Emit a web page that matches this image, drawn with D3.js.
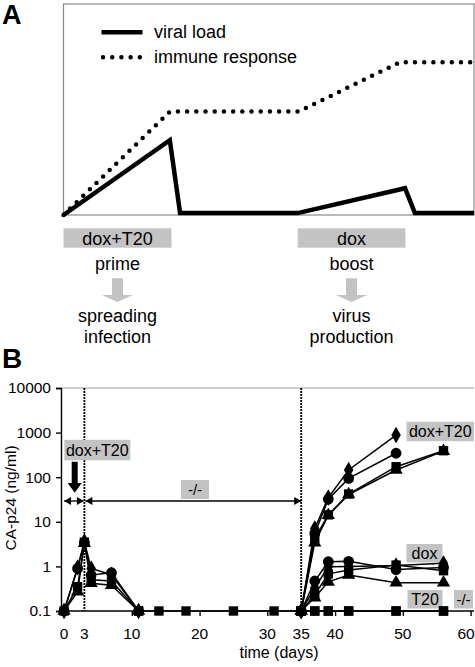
<!DOCTYPE html>
<html><head><meta charset="utf-8">
<script src="https://cdn.jsdelivr.net/npm/d3@7"></script>
<style>
html,body{margin:0;padding:0;background:#fff;}
svg{display:block;font-family:"Liberation Sans",Arial,sans-serif;}
</style></head>
<body>
<svg id="c" width="475" height="667"></svg>
<script>
// ---------- Panel A (schematic) ----------
const schemeT = [0, 25.9, 28.4, 57.05, 83.2, 85.6, 100];
const viralLoad = [0, 35.5, 0.9, 0.9, 12.7, 0.9, 0.9];
const immuneT = [0, 25.9, 57.2, 82, 100];
const immuneResponse = [0, 49, 49, 72.4, 72.4];
const legendLabels = ["viral load", "immune response"];
const phaseBoxes = ["dox+T20", "dox"];
const phaseStarts = [0, 57.05];
const phaseEnds = [26.3, 83.3];
const phaseTop = ["prime", "boost"];
const phaseBottom = [["spreading", "infection"], ["virus", "production"]];

// ---------- Panel B (CA-p24) ----------
const earlyDays = [0, 2, 3, 4, 7, 11];
const earlyDiamond = [0.1, 0.95, 3.6, 0.9, 0.65, 0.1];
const earlyCircle = [0.1, 0.9, 3.4, 0.64, 0.72, 0.1];
const earlySquare = [0.1, 0.35, 3.5, 0.5, 0.47, 0.1];
const earlyTriangle = [0.1, 0.27, 3.3, 0.42, 0.38, 0.1];
const restDays = [11, 14, 18, 25, 31, 35];
const restValues = [0.1, 0.1, 0.1, 0.1, 0.1, 0.1];
const lateDays = [35, 37, 39, 42, 49, 56];
const doxT20Diamond = [0.1, 7.1, 35, 145, 880, null];
const doxT20Circle = [0.1, 5.5, 32, 94, 344, null];
const doxT20Square = [0.1, 4.2, 14.3, 42, 172, 393];
const doxT20Triangle = [0.1, 3.4, 14, 41, 145, 385];
const doxCircle = [0.1, 0.47, 1.27, 1.3, 0.85, 0.95];
const doxDiamond = [0.1, 0.33, 0.98, 1.0, 1.05, 1.17];
const doxSquare = [0.1, 0.23, 0.68, 0.83, 1.07, 0.8];
const doxTriangle = [0.1, 0.2, 0.45, 0.64, 0.43, 0.43];
const t20Values = [0.1, 0.1, 0.1, 0.1, 0.1, 0.1];
const negValues = [0.1, 0.1, 0.1, 0.1, 0.1, 0.1];
const yTicks = [0.1, 1, 10, 100, 1000, 10000];
const yTickLabels = ["0.1", "1", "10", "100", "1000", "10000"];
const xTicks = [0, 10, 20, 30, 40, 50, 60];
const xLabelValues = [0, 3, 10, 20, 30, 35, 40, 50, 60];
const treatDays = [0, 3, 35];

const svg = d3.select("#c");
const GRAY = "#c3c3c3";

// Panel letters
svg.append("text").attr("x", 2).attr("y", 24).attr("font-size", 27).attr("font-weight", "bold").text("A");
svg.append("text").attr("x", 2).attr("y", 368).attr("font-size", 28).attr("font-weight", "bold").text("B");

// ---- Panel A
const xa = d3.scaleLinear().domain([0, 100]).range([63.5, 474]);
const ya = d3.scaleLinear().domain([0, 100]).range([215, 4]);
const A = svg.append("g");
A.append("rect").attr("x", xa(0)).attr("y", ya(100)).attr("width", xa(100) - xa(0)).attr("height", ya(0) - ya(100))
  .attr("fill", "none").attr("stroke", "#8a8a8a").attr("stroke-width", 1.2);

const lineA = d3.line().x(d => xa(d[0])).y(d => ya(d[1]));
A.append("path").datum(immuneT.map((t, i) => [t, immuneResponse[i]]))
  .attr("d", lineA).attr("fill", "none").attr("stroke", "#000").attr("stroke-width", 4.5)
  .attr("stroke-linecap", "round").attr("stroke-dasharray", "0 9.2");
A.append("path").datum(schemeT.map((t, i) => [t, viralLoad[i]]))
  .attr("d", lineA).attr("fill", "none").attr("stroke", "#000").attr("stroke-width", 4.5)
  .attr("stroke-linejoin", "miter");

// legend
A.append("line").attr("x1", 101.5).attr("x2", 142.5).attr("y1", 32.3).attr("y2", 32.3)
  .attr("stroke", "#000").attr("stroke-width", 4.5);
A.append("line").attr("x1", 103).attr("x2", 142).attr("y1", 57.3).attr("y2", 57.3)
  .attr("stroke", "#000").attr("stroke-width", 4.5).attr("stroke-linecap", "round").attr("stroke-dasharray", "0 9.2");
A.append("text").attr("x", 154).attr("y", 37.5).attr("font-size", 18).text(legendLabels[0]);
A.append("text").attr("x", 154).attr("y", 62.5).attr("font-size", 18).text(legendLabels[1]);

// phase boxes and texts
phaseBoxes.forEach((lab, i) => {
  const x0 = xa(phaseStarts[i]), x1 = xa(phaseEnds[i]), cx = (x0 + x1) / 2;
  A.append("rect").attr("x", x0).attr("y", 228.3).attr("width", x1 - x0).attr("height", 19.4).attr("fill", GRAY);
  A.append("text").attr("x", cx).attr("y", 244.5).attr("text-anchor", "middle").attr("font-size", 18).text(lab);
  A.append("text").attr("x", cx).attr("y", 270).attr("text-anchor", "middle").attr("font-size", 18).text(phaseTop[i]);
  const ax = cx;
  A.append("path").attr("fill", GRAY)
    .attr("d", `M${ax - 5.5},278.3 L${ax + 5.5},278.3 L${ax + 5.5},295 L${ax + 15.5},295 L${ax},302 L${ax - 15.5},295 L${ax - 5.5},295 Z`);
  A.append("text").attr("x", cx).attr("y", 321.5).attr("text-anchor", "middle").attr("font-size", 18).text(phaseBottom[i][0]);
  A.append("text").attr("x", cx).attr("y", 342.5).attr("text-anchor", "middle").attr("font-size", 18).text(phaseBottom[i][1]);
});

// ---- Panel B
const x = d3.scaleLinear().domain([-0.45, 60.5]).range([61, 474]);
const y = d3.scaleLog().domain([0.1, 10000]).range([611, 388]);
const B = svg.append("g");

B.append("line").attr("x1", 61).attr("x2", 474).attr("y1", y(10000)).attr("y2", y(10000))
  .attr("stroke", "#9a9a9a").attr("stroke-width", 1);

const yAxis = B.append("g").attr("transform", "translate(61,0)")
  .call(d3.axisLeft(y).tickValues(yTicks).tickFormat((d, i) => yTickLabels[i]).tickSize(5).tickPadding(5));
yAxis.select(".domain").attr("stroke-width", 1.4);
yAxis.selectAll("line").attr("stroke-width", 1.4);
yAxis.selectAll("text").attr("font-size", 15.5).attr("font-family", "Liberation Sans, Arial, sans-serif").attr("fill", "#000");

const xAxis = B.append("g").attr("transform", "translate(0,611)")
  .call(d3.axisBottom(x).tickValues(xTicks).tickFormat("").tickSize(5).tickSizeOuter(0));
xAxis.select(".domain").attr("stroke-width", 1.4).attr("d", `M61,0H474`);
xAxis.selectAll("line").attr("stroke-width", 1.4);
B.selectAll(".xl").data(xLabelValues).enter().append("text").attr("class", "xl")
  .attr("x", d => Math.min(x(d), 466)).attr("y", 639).attr("text-anchor", "middle").attr("font-size", 15.5).text(d => d);
B.append("text").attr("x", 279).attr("y", 658).attr("text-anchor", "middle").attr("font-size", 16).text("time (days)");
B.append("text").attr("transform", "translate(16,498) rotate(-90)").attr("text-anchor", "middle")
  .attr("font-size", 15.5).text("CA-p24 (ng/ml)");

[treatDays[1], treatDays[2]].forEach(d => {
  B.append("line").attr("x1", x(d)).attr("x2", x(d)).attr("y1", y(10000)).attr("y2", y(0.1))
    .attr("stroke", "#000").attr("stroke-width", 1.8).attr("stroke-dasharray", "2 1");
});

const arrowY = 501;
function head(px, dir) {
  B.append("path").attr("fill", "#000")
    .attr("d", `M${px},${arrowY} L${px - dir * 7},${arrowY - 4} L${px - dir * 7},${arrowY + 4} Z`);
}
B.append("line").attr("x1", x(treatDays[0])).attr("x2", x(treatDays[1]) - 1).attr("y1", arrowY).attr("y2", arrowY).attr("stroke", "#000").attr("stroke-width", 1.3);
B.append("line").attr("x1", x(treatDays[1]) + 1).attr("x2", x(treatDays[2])).attr("y1", arrowY).attr("y2", arrowY).attr("stroke", "#000").attr("stroke-width", 1.3);
head(x(treatDays[0]), -1); head(x(treatDays[1]) - 0.5, 1); head(x(treatDays[1]) + 1, -1); head(x(treatDays[2]), 1);

const bx = 74.7;
B.append("path").attr("fill", "#000")
  .attr("d", `M${bx - 3},461.7 L${bx + 3},461.7 L${bx + 3},483 L${bx + 7},483 L${bx},492.7 L${bx - 7},483 L${bx - 3},483 Z`);

function gbox(x0, y0, w, h, txt, fs) {
  B.append("rect").attr("x", x0).attr("y", y0).attr("width", w).attr("height", h).attr("fill", GRAY);
  B.append("text").attr("x", x0 + w / 2).attr("y", y0 + h / 2 + fs * 0.36).attr("text-anchor", "middle").attr("font-size", fs).text(txt);
}
gbox(64.3, 439.8, 66, 20.5, "dox+T20", 16);
gbox(181, 480, 28, 19, "-/-", 15);
gbox(406.5, 421.7, 67.5, 19.5, "dox+T20", 16);
gbox(406.5, 544, 36, 18.5, "dox", 16);
gbox(407.5, 590, 35, 18.5, "T20", 16);
gbox(454, 590, 19, 18.5, "-/-", 15);

const sym = {
  diamond: d3.symbol().type(d3.symbolDiamond).size(78)(),
  circle: d3.symbol().type(d3.symbolCircle).size(92)(),
  square: d3.symbol().type(d3.symbolSquare).size(88)(),
  triangle: d3.symbol().type(d3.symbolTriangle).size(76)()
};
const series = [
  { days: earlyDays, vals: earlyTriangle, m: "triangle" },
  { days: earlyDays, vals: earlySquare, m: "square" },
  { days: earlyDays, vals: earlyCircle, m: "circle" },
  { days: earlyDays, vals: earlyDiamond, m: "diamond" },
  { days: restDays, vals: restValues, m: "square" },
  { days: lateDays, vals: t20Values, m: "square" },
  { days: lateDays, vals: negValues, m: "square" },
  { days: lateDays, vals: doxTriangle, m: "triangle" },
  { days: lateDays, vals: doxSquare, m: "square" },
  { days: lateDays, vals: doxDiamond, m: "diamond" },
  { days: lateDays, vals: doxCircle, m: "circle" },
  { days: lateDays, vals: doxT20Triangle, m: "triangle" },
  { days: lateDays, vals: doxT20Square, m: "square" },
  { days: lateDays, vals: doxT20Circle, m: "circle" },
  { days: lateDays, vals: doxT20Diamond, m: "diamond" }
];
const lineB = d3.line().defined(d => d[1] != null).x(d => x(d[0])).y(d => y(d[1]));
series.forEach(s => {
  const pts = s.days.map((d, i) => [d, s.vals[i]]);
  B.append("path").datum(pts).attr("d", lineB).attr("fill", "none").attr("stroke", "#000").attr("stroke-width", 1.5);
});
series.forEach(s => {
  const pts = s.days.map((d, i) => [d, s.vals[i]]).filter(p => p[1] != null);
  B.selectAll(null).data(pts).enter().append("path")
    .attr("d", sym[s.m]).attr("fill", "#000")
    .attr("transform", p => `translate(${x(p[0])},${y(p[1])})`);
});
</script>
</body></html>
